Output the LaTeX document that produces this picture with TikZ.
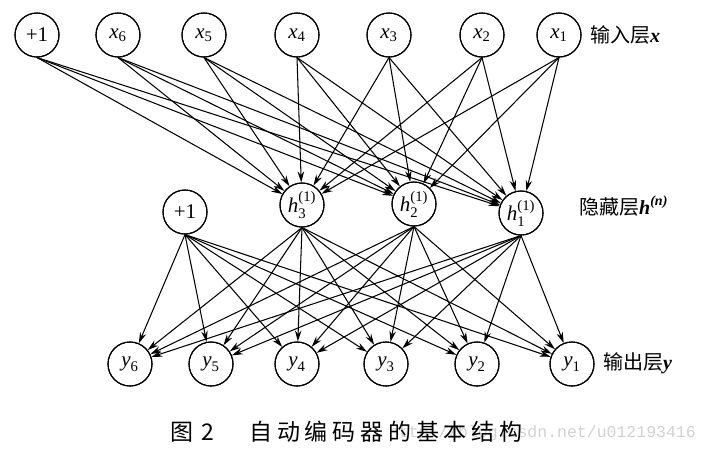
\documentclass[tikz,border=0pt]{standalone}
\usepackage{amsmath}
\usepackage{fontspec}
\setmainfont{Liberation Serif}
\newfontfamily\cjk{Noto Sans CJK SC}
\newfontfamily\wmfont{Liberation Mono}
\usetikzlibrary{arrows.meta}
\tikzset{
  neuron/.style={circle, draw, line width=1.1pt, minimum size=44pt, inner sep=0pt, fill=white,
    font=\fontsize{21}{21}\selectfont},
  arr/.style={line width=1.05pt, -{Stealth[length=11pt,width=6.5pt]}},
  layerlabel/.style={anchor=west, inner sep=0pt, font=\fontsize{20}{20}\selectfont},
  captext/.style={anchor=west, inner sep=0pt, font=\cjk\fontsize{23}{23}\selectfont},
}
\newcommand{\nv}[2]{$\textit{#1}_{\text{#2}}$}
\newcommand{\hv}[1]{$\textit{h}_{\text{#1}}^{\text{(1)}}$}
\begin{document}
\begin{tikzpicture}[x=1pt,y=-1pt]
\useasboundingbox (0,0) rectangle (706,456);
% input layer
\node[neuron] (p1) at (37,35) {+1};
\node[neuron] (x6) at (118,35) {\nv{x}{6}};
\node[neuron] (x5) at (204,35) {\nv{x}{5}};
\node[neuron] (x4) at (297,35) {\nv{x}{4}};
\node[neuron] (x3) at (389,35) {\nv{x}{3}};
\node[neuron] (x2) at (482,35) {\nv{x}{2}};
\node[neuron] (x1) at (559,35) {\nv{x}{1}};
% hidden layer
\node[neuron] (p2) at (185,212) {+1};
\node[neuron] (h3) at (302,205) {\hv{3}};
\node[neuron] (h2) at (414,204) {\hv{2}};
\node[neuron] (h1) at (521,213) {\hv{1}};
% output layer
\node[neuron] (y6) at (130,364) {\nv{y}{6}};
\node[neuron] (y5) at (211,364) {\nv{y}{5}};
\node[neuron] (y4) at (297,364) {\nv{y}{4}};
\node[neuron] (y3) at (386,364) {\nv{y}{3}};
\node[neuron] (y2) at (477,364) {\nv{y}{2}};
\node[neuron] (y1) at (572,364) {\nv{y}{1}};
% connections input -> hidden
\foreach \s in {p1,x6,x5,x4,x3,x2,x1}
  \foreach \t in {h3,h2,h1}
    \draw[arr] (\s.south) -- (\t);
% connections hidden -> output
\foreach \s in {p2,h3,h2,h1}
  \foreach \t in {y6,y5,y4,y3,y2,y1}
    \draw[arr] (\s.south) -- (\t);
% redraw circle outlines on top
\foreach \n in {p1,x6,x5,x4,x3,x2,x1,p2,h3,h2,h1,y6,y5,y4,y3,y2,y1}
  \draw[line width=1.1pt] (\n) circle (22pt);
% layer labels
\node[layerlabel] (lin) at (590,35) {{\cjk 输入层}\textbf{\textit{x}}};
\node[layerlabel] (lhid) at (579,206) {{\cjk 隐藏层}$\textbf{\textit{h}}^{\text{\textbf{\textit{(n)}}}}$};
\node[layerlabel] (lout) at (603,363) {{\cjk 输出层}\textbf{\textit{y}}};
% watermark
\node[anchor=east, inner sep=0pt, text=black!18, font=\wmfont\fontsize{16.5}{16.5}\selectfont] (wm) at (696,433) {http://blog.csdn.net/u012193416};
% caption
\node[captext] (cap1) at (170,432) {图\hspace{8pt}2};
\node[captext, font=\cjk\fontsize{23}{23}\selectfont\addfontfeature{LetterSpace=21}] (cap2) at (249,432) {自动编码器的基本结构};
\end{tikzpicture}
\end{document}
